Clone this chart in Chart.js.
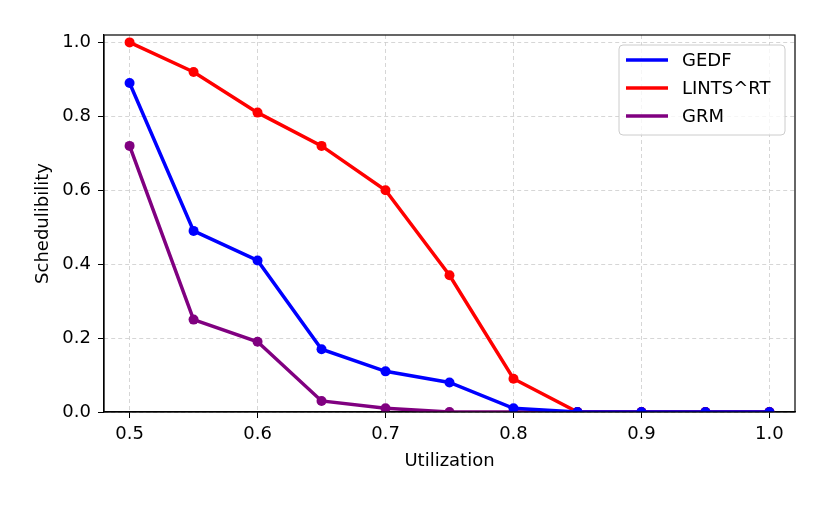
<!DOCTYPE html>
<html>
<head>
<meta charset="utf-8">
<script src="https://cdn.jsdelivr.net/npm/chart.js@4/dist/chart.umd.min.js"></script>
<style>
  html, body { margin: 0; padding: 0; background: #fff; }
  #wrap { width: 830px; height: 506px; }
</style>
</head>
<body>
<div id="wrap"><canvas id="c" width="830" height="506"></canvas></div>
<script>
const utilization = [0.5, 0.55, 0.6, 0.65, 0.7, 0.75, 0.8, 0.85, 0.9, 0.95, 1.0];
const gedf  = [0.89, 0.49, 0.41, 0.17, 0.11, 0.08, 0.01, 0.0, 0.0, 0.0, 0.0];
const lints = [1.0, 0.92, 0.81, 0.72, 0.60, 0.37, 0.09, 0.0, 0.0, 0.0, 0.0];
const grm   = [0.72, 0.25, 0.19, 0.03, 0.01, 0.0, 0.0, 0.0, 0.0, 0.0, 0.0];
const seriesNames = ['GEDF', 'LINTS^RT', 'GRM'];
const seriesColors = ['#0000ff', '#ff0000', '#800080'];
const xTicks = [0.5, 0.6, 0.7, 0.8, 0.9, 1.0];
const yTicks = [0.0, 0.2, 0.4, 0.6, 0.8, 1.0];

const FONT = "'DejaVu Sans', sans-serif";
const FS = 18;

function pts(arr) { return utilization.map((u, i) => ({ x: u, y: arr[i] })); }

const datasets = [gedf, lints, grm].map((arr, i) => ({
  label: seriesNames[i],
  data: pts(arr),
  borderColor: seriesColors[i],
  backgroundColor: seriesColors[i],
  borderWidth: 3.5,
  pointRadius: 5,
  pointHoverRadius: 5,
  pointBorderWidth: 0,
  pointBackgroundColor: seriesColors[i],
  tension: 0,
  clip: 0
}));

const framePlugin = {
  id: 'frame',
  afterDatasetsDraw(chart) {
    const { ctx, chartArea: a } = chart;
    ctx.save();
    ctx.strokeStyle = '#000';
    ctx.lineWidth = 1.2;
    ctx.strokeRect(a.left, a.top, a.right - a.left, a.bottom - a.top);
    ctx.restore();
  }
};

const legendPlugin = {
  id: 'boxLegend',
  afterDraw(chart) {
    const { ctx, chartArea: a } = chart;
    const bw = 166, bh = 90;
    const x0 = a.right - 10 - bw, y0 = a.top + 10;
    ctx.save();
    ctx.beginPath();
    ctx.roundRect(x0, y0, bw, bh, 4);
    ctx.fillStyle = 'rgba(255,255,255,0.8)';
    ctx.fill();
    ctx.strokeStyle = '#cccccc';
    ctx.lineWidth = 1;
    ctx.stroke();
    ctx.font = FS + 'px ' + FONT;
    ctx.textBaseline = 'middle';
    ctx.textAlign = 'left';
    chart.data.datasets.forEach((ds, i) => {
      const y = y0 + 15 + i * 28;
      ctx.beginPath();
      ctx.strokeStyle = ds.borderColor;
      ctx.lineWidth = 3.5;
      ctx.moveTo(x0 + 7, y);
      ctx.lineTo(x0 + 49, y);
      ctx.stroke();
      ctx.fillStyle = '#000';
      ctx.fillText(ds.label, x0 + 63, y + 1);
    });
    ctx.restore();
  }
};

new Chart(document.getElementById('c'), {
  type: 'line',
  data: { datasets },
  plugins: [framePlugin, legendPlugin],
  options: {
    responsive: false,
    animation: false,
    events: [],
    layout: { padding: { left: 0, top: 35, right: 35, bottom: 0 } },
    plugins: { legend: { display: false }, tooltip: { enabled: false } },
    scales: {
      x: {
        type: 'linear',
        min: 0.48,
        max: 1.02,
        afterBuildTicks(scale) { scale.ticks = xTicks.map(v => ({ value: v })); },
        afterFit(scale) { scale.height = 94; },
        ticks: {
          color: '#000',
          font: { family: FONT, size: FS },
          padding: 6,
          maxRotation: 0,
          callback: v => v.toFixed(1)
        },
        grid: { color: '#cccccc', lineWidth: 0.8, tickColor: '#000', tickLength: 6, tickWidth: 1 },
        border: { display: true, color: '#000', width: 1.2, dash: [4, 3] },
        title: {
          display: true, text: 'Utilization', color: '#000',
          font: { family: FONT, size: FS }, padding: { top: 0, bottom: 34 }
        }
      },
      y: {
        type: 'linear',
        min: 0,
        max: 1.02,
        afterBuildTicks(scale) { scale.ticks = yTicks.map(v => ({ value: v })); },
        afterFit(scale) { scale.width = 104; },
        ticks: {
          color: '#000',
          font: { family: FONT, size: FS },
          padding: 7,
          callback: v => v.toFixed(1)
        },
        grid: { color: '#cccccc', lineWidth: 0.8, tickColor: '#000', tickLength: 6, tickWidth: 1 },
        border: { display: true, color: '#000', width: 1.2, dash: [4, 3] },
        title: {
          display: true, text: 'Schedulibility', color: '#000',
          font: { family: FONT, size: FS }, padding: { top: 33, bottom: 0 }
        }
      }
    }
  }
});
</script>
</body>
</html>
